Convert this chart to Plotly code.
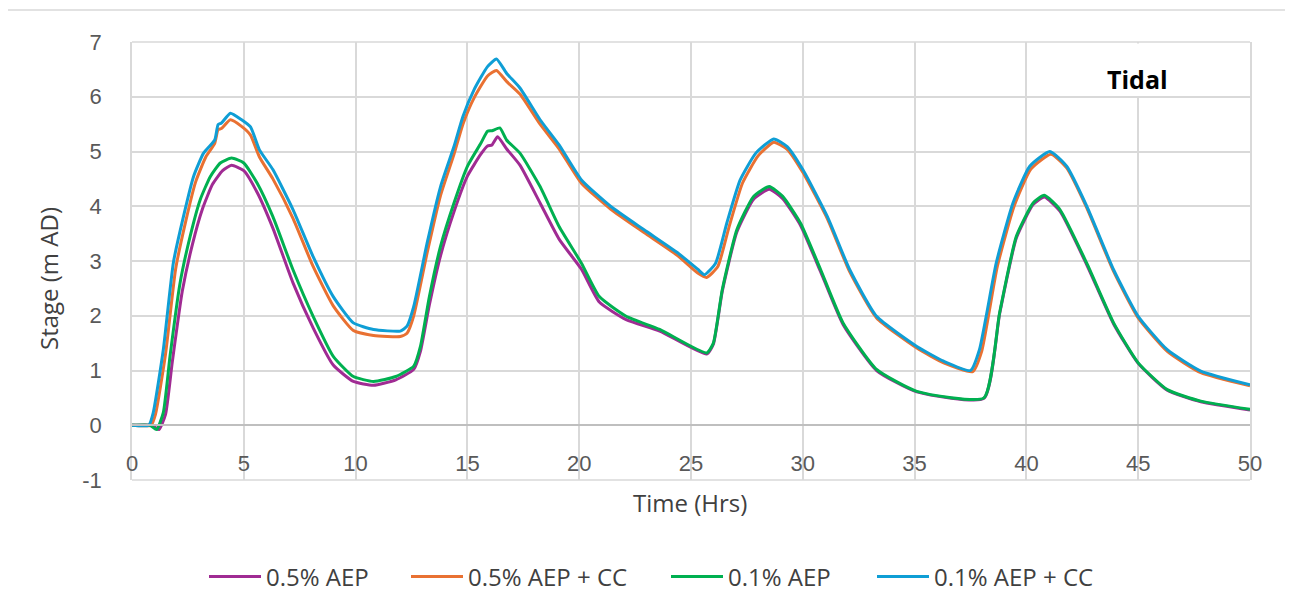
import plotly.graph_objects as go

# ---------------- data ----------------
series_names = ["0.5% AEP", "0.5% AEP + CC", "0.1% AEP", "0.1% AEP + CC"]
series_colors = ["#A02B93", "#E97132", "#00B050", "#0F9ED5"]

t_aep05 = [0, 0.9, 1.2, 1.5, 1.8, 2.25, 2.7, 3.15, 3.6, 4.05, 4.45, 5.0, 5.6, 6.3, 7.2, 8.1, 9.0, 9.9,
           10.8, 11.8, 12.6, 12.9, 13.3, 13.8, 14.4, 15.0, 15.6, 15.9, 16.1, 16.35, 16.75, 17.35, 18.25,
           19.1, 20.1, 20.9, 22.1, 23.6, 25.7, 26.0, 26.4, 27.05, 27.8, 28.5, 29.1, 29.9, 30.8, 31.8,
           33.3, 35.1, 38.1, 38.8, 39.55, 40.3, 40.8, 41.5, 42.7, 43.9, 45, 46.3, 47.8, 50]
v_aep05 = [0, 0, -0.08, 0.2, 1.15, 2.45, 3.3, 3.95, 4.4, 4.65, 4.75, 4.65, 4.25, 3.6, 2.6, 1.78, 1.1, 0.8,
           0.73, 0.83, 1.02, 1.35, 2.2, 3.1, 3.9, 4.55, 4.95, 5.1, 5.12, 5.27, 5.05, 4.75, 4.06,
           3.4, 2.85, 2.25, 1.93, 1.72, 1.30, 1.48, 2.45, 3.53, 4.13, 4.31, 4.14, 3.65, 2.8, 1.84,
           1.0, 0.61, 0.49, 2.03, 3.42, 4.03, 4.17, 3.91, 2.93, 1.85, 1.13, 0.64, 0.43, 0.28]

t_aep05_cc = [0, 0.85, 1.05, 1.5, 1.95, 2.4, 2.85, 3.3, 3.7, 3.85, 4.0, 4.4, 4.9, 5.3, 5.7, 6.3, 7.2, 8.1,
              9.0, 9.9, 10.8, 12.0, 12.3, 12.6, 13.2, 13.8, 14.4, 14.8, 15.3, 15.9, 16.3, 16.75, 17.35,
              18.25, 19.1, 20.1, 21.4, 22.9, 24.4, 25.3, 25.7, 26.2, 26.7, 27.3, 28.0, 28.7, 29.3, 30.0,
              31.1, 32.1, 33.3, 35.1, 36.3, 37.6, 38.0, 38.7, 39.45, 40.2, 41.1, 41.8, 42.7, 43.9, 45,
              46.3, 47.8, 50]
v_aep05_cc = [0, 0, 0.2, 1.3, 2.85, 3.72, 4.45, 4.9, 5.15, 5.40, 5.42, 5.58, 5.46, 5.3, 4.9, 4.5, 3.78, 2.9,
              2.18, 1.73, 1.64, 1.62, 1.68, 2.0, 3.15, 4.2, 4.95, 5.5, 5.98, 6.38, 6.48, 6.28, 6.05,
              5.5, 5.05, 4.42, 3.95, 3.52, 3.1, 2.78, 2.70, 2.9, 3.62, 4.42, 4.92, 5.17, 5.04, 4.62,
              3.77, 2.8, 1.96, 1.41, 1.14, 0.98, 1.35, 2.9, 4.0, 4.68, 4.95, 4.7, 3.97, 2.81, 1.96,
              1.35, 0.96, 0.72]

t_aep01 = [0, 0.8, 1.1, 1.4, 1.7, 2.15, 2.6, 3.05, 3.5, 3.95, 4.45, 5.0, 5.6, 6.3, 7.2, 8.1, 9.0, 9.9,
           10.8, 11.8, 12.6, 12.9, 13.3, 13.8, 14.4, 15.0, 15.6, 15.9, 16.1, 16.45, 16.75, 17.35, 18.25,
           19.1, 20.1, 20.9, 22.1, 23.6, 25.7, 26.0, 26.4, 27.05, 27.8, 28.5, 29.1, 29.9, 30.8, 31.8,
           33.3, 35.1, 38.1, 38.8, 39.55, 40.3, 40.8, 41.5, 42.7, 43.9, 45, 46.3, 47.8, 50]
v_aep01 = [0, 0, -0.08, 0.23, 1.26, 2.6, 3.45, 4.12, 4.54, 4.79, 4.88, 4.79, 4.42, 3.81, 2.84, 1.99, 1.26, 0.89,
           0.80, 0.89, 1.08, 1.44, 2.35, 3.27, 4.06, 4.73, 5.15, 5.37, 5.38, 5.43, 5.21, 4.97, 4.36,
           3.63, 2.96, 2.35, 1.99, 1.75, 1.32, 1.50, 2.48, 3.57, 4.18, 4.36, 4.18, 3.69, 2.84, 1.87,
           1.02, 0.62, 0.50, 2.05, 3.45, 4.06, 4.2, 3.94, 2.96, 1.87, 1.14, 0.65, 0.44, 0.29]

t_aep01_cc = [0, 0.75, 0.95, 1.4, 1.85, 2.3, 2.75, 3.2, 3.7, 3.85, 4.0, 4.4, 4.9, 5.3, 5.7, 6.3, 7.2, 8.1,
              9.0, 9.9, 10.8, 12.0, 12.3, 12.6, 13.2, 13.8, 14.4, 14.8, 15.3, 15.9, 16.3, 16.75, 17.35,
              18.25, 19.1, 20.1, 21.4, 22.9, 24.4, 25.3, 25.6, 26.1, 26.6, 27.2, 27.9, 28.7, 29.3, 30.0,
              31.1, 32.1, 33.3, 35.1, 36.3, 37.5, 37.9, 38.65, 39.4, 40.15, 41.05, 41.8, 42.7, 43.9, 45,
              46.3, 47.8, 50]
v_aep01_cc = [0, 0, 0.23, 1.38, 2.97, 3.81, 4.54, 4.97, 5.21, 5.49, 5.52, 5.70, 5.58, 5.45, 5.03, 4.67, 3.94, 3.08,
              2.35, 1.87, 1.75, 1.72, 1.81, 2.17, 3.33, 4.36, 5.09, 5.64, 6.13, 6.55, 6.69, 6.43, 6.16,
              5.58, 5.12, 4.48, 4.0, 3.57, 3.15, 2.85, 2.75, 2.96, 3.69, 4.48, 4.97, 5.23, 5.09, 4.67,
              3.81, 2.84, 1.99, 1.44, 1.17, 1.0, 1.38, 2.96, 4.06, 4.73, 5.0, 4.73, 4.0, 2.84, 1.99,
              1.38, 0.99, 0.74]

x_ticks = [0, 5, 10, 15, 20, 25, 30, 35, 40, 45, 50]
y_ticks = [-1, 0, 1, 2, 3, 4, 5, 6, 7]

# ---------------- figure ----------------
OFF = 8  # page body margin
W, H = 1293 - OFF, 614 - OFF
L, R, T, B = 132, 1250, 42, 480  # plot area in screenshot pixels
pw, ph = R - L, B - T


def px_x(p):
    return (p - L) / pw


def px_y(p):
    return (B - p) / ph


legend_ids = ["legend", "legend2", "legend3", "legend4"]
legend_line_start = [210, 412, 672, 878]

fig = go.Figure()
for name, color, tx, vy, lid in zip(series_names, series_colors,
                                    [t_aep05, t_aep05_cc, t_aep01, t_aep01_cc],
                                    [v_aep05, v_aep05_cc, v_aep01, v_aep01_cc], legend_ids):
    fig.add_trace(go.Scatter(x=tx, y=vy, mode="lines", name=name, legend=lid,
                             line=dict(color=color, width=3, shape="spline", smoothing=0.5)))

tick_font = dict(family="Liberation Sans, Arial, sans-serif", size=22, color="#595959")
text_font = dict(family="Open Sans, Arial, sans-serif", size=24, color="#404040")
leg_font = dict(family="Open Sans, Arial, sans-serif", size=24, color="#404040")

y0_frac = (0 - y_ticks[0]) / (y_ticks[-1] - y_ticks[0])

layout_legends = {}
for lid, xs in zip(legend_ids, legend_line_start):
    layout_legends[lid] = dict(orientation="h", x=px_x(xs - 6), xanchor="left", y=px_y(577),
                               yanchor="middle", font=leg_font, itemwidth=52,
                               bgcolor="rgba(0,0,0,0)")

fig.update_layout(
    width=W, height=H,
    margin=dict(l=L - OFF, r=W - (R - OFF), t=T - OFF, b=H - (B - OFF), pad=0),
    paper_bgcolor="white", plot_bgcolor="white",
    showlegend=True,
    xaxis=dict(range=[x_ticks[0], x_ticks[-1]], tickvals=x_ticks, ticktext=[str(v) for v in x_ticks],
               showgrid=True, gridcolor="#D9D9D9", gridwidth=1.5,
               zeroline=False, showline=True, linecolor="#BFBFBF", linewidth=1.5,
               anchor="free", position=y0_frac, side="bottom",
               ticks="", tickfont=tick_font, ticklabelstandoff=19),
    yaxis=dict(range=[y_ticks[0], y_ticks[-1]], tickvals=y_ticks, ticktext=[str(v) for v in y_ticks],
               showgrid=True, gridcolor="#D9D9D9", gridwidth=1.5,
               zeroline=False, showline=True, linecolor="#D9D9D9", linewidth=1.5, mirror=True,
               ticks="", tickfont=tick_font, ticklabelstandoff=24),
    **layout_legends,
)

# outer chart border
fig.add_shape(type="rect", xref="paper", yref="paper",
              x0=px_x(6), x1=px_x(1291), y0=px_y(640), y1=px_y(10),
              line=dict(color="#D9D9D9", width=1.5), fillcolor="rgba(0,0,0,0)", layer="below")
# top / bottom plot border lines
fig.add_shape(type="line", xref="paper", yref="paper", x0=0, x1=1, y0=1, y1=1,
              line=dict(color="#D9D9D9", width=1.5), layer="below")
fig.add_shape(type="line", xref="paper", yref="paper", x0=0, x1=1, y0=0, y1=0,
              line=dict(color="#D9D9D9", width=1.5), layer="below")

# white label box
fig.add_shape(type="rect", xref="paper", yref="paper",
              x0=px_x(1087), x1=px_x(1247), y0=px_y(96), y1=px_y(43.5),
              line=dict(width=0), fillcolor="white", layer="above")
fig.add_annotation(text="<b>Tidal</b>", xref="paper", yref="paper", x=px_x(1137), y=px_y(79),
                   xanchor="center", yanchor="middle", showarrow=False,
                   font=dict(family="Open Sans, Arial, sans-serif", size=25, color="#000000"))

# axis titles
fig.add_annotation(text="Time (Hrs)", xref="paper", yref="paper", x=px_x(690), y=px_y(503),
                   xanchor="center", yanchor="middle", showarrow=False, font=text_font)
fig.add_annotation(text="Stage (m AD)", xref="paper", yref="paper", x=px_x(48), y=px_y(278),
                   xanchor="center", yanchor="middle", showarrow=False, textangle=-90, font=text_font)

fig.write_html("out.html")
